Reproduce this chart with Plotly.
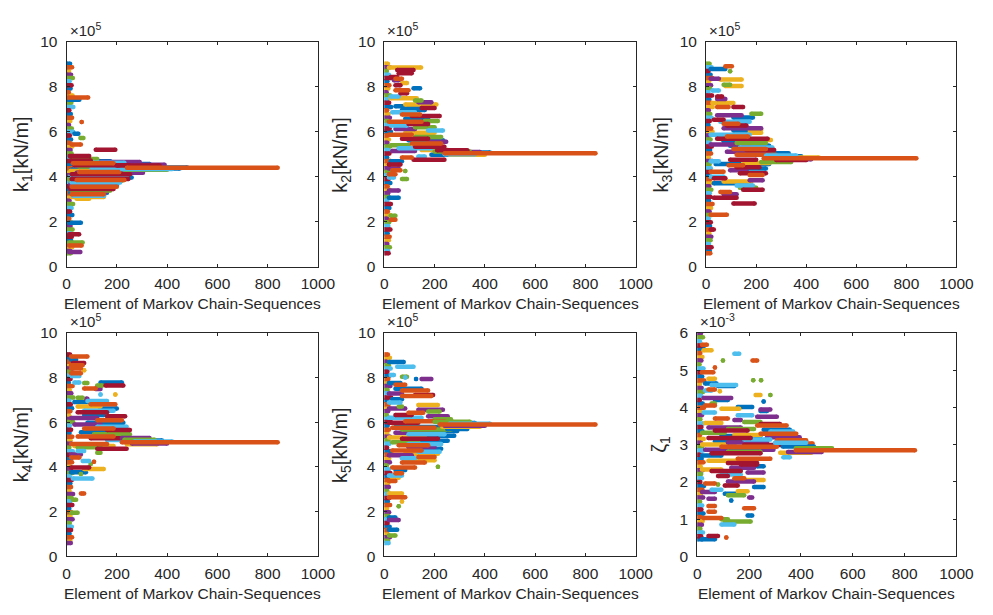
import plotly.graph_objects as go

# ---------------- data ----------------
X_TICKS = [0, 200, 400, 600, 800, 1000]
K_TICKS = [0, 2, 4, 6, 8, 10]
Z_TICKS = [0, 1, 2, 3, 4, 5, 6]
X_LABEL = "Element of Markov Chain-Sequences"
Y_LABELS = ["k<sub>1</sub>[kN/m]", "k<sub>2</sub>[kN/m]", "k<sub>3</sub>[kN/m]",
            "k<sub>4</sub>[kN/m]", "k<sub>5</sub>[kN/m]", "ζ<sub>1</sub>"]
EXPONENTS = ["×10<sup>5</sup>"] * 5 + ["×10<sup>-3</sup>"]

# dense column of early samples (first ~25 elements), values in 1e5 kN/m
K_COL = [9.03, 8.88, 8.71, 8.55, 8.40, 8.26, 8.08, 7.93, 7.77, 7.62,
         7.44, 7.30, 7.11, 6.96, 6.80, 6.63, 6.49, 6.31, 6.15, 6.01,
         5.84, 5.66, 5.52, 5.35, 5.19, 5.04, 4.86, 4.70, 4.55, 4.38,
         4.21, 4.07, 3.90, 3.73, 3.58, 3.42, 3.27, 3.10, 2.93, 2.79,
         2.61, 2.46, 2.30, 2.13, 1.98, 1.81, 1.66, 1.49, 1.33, 1.18,
         1.01, 0.86, 0.70, 0.60]
# same for zeta_1, values in 1e-3
Z_COL = [5.98, 5.88, 5.77, 5.66, 5.57, 5.46, 5.35, 5.26, 5.15, 5.04,
         4.94, 4.83, 4.72, 4.63, 4.52, 4.41, 4.31, 4.20, 4.10, 3.99,
         3.88, 3.79, 3.68, 3.57, 3.47, 3.36, 3.26, 3.15, 3.05, 2.94,
         2.84, 2.73, 2.62, 2.53, 2.42, 2.31, 2.21, 2.10, 2.00, 1.89,
         1.79, 1.68, 1.58, 1.47, 1.37, 1.26, 1.15, 1.06, 0.95, 0.85,
         0.74, 0.64, 0.54, 0.46]
COL_END = [14, 22, 10, 18, 25, 12, 20, 16, 9, 24,
           13, 19, 27, 11, 17, 22, 15, 10, 21, 26,
           13, 18, 12, 23, 16, 20, 11, 25, 14, 19,
           22, 10, 17, 24, 13, 21, 15, 18, 12, 26,
           20, 14, 23, 11, 19, 16, 24, 13, 21, 18,
           12, 22, 15, 17]

# chain ids: 0 blue, 1 orange, 2 yellow, 3 purple, 4 green, 5 light blue, 6 dark red
# ---- k1 (x1e5) ----
K1_START = [5, 5, 60, 31, 55, 20, 116, 12, 20, 15, 30, 40, 60, 25, 60, 30, 80, 50, 100, 20,
            15, 50, 40, 20, 15, 70, 30, 20, 40, 15, 20, 15, 30, 20, 25, 15, 20, 30, 15, 20,
            25, 20, 40, 10, 10, 10, 10, 10]
K1_END = [86, 51, 60, 47, 67, 57, 194, 90, 122, 96, 174, 291, 230, 187, 330, 265, 280, 304, 300, 356,
          252, 210, 304, 252, 239, 240, 259, 246, 230, 220, 213, 187, 200, 200, 175, 187, 174, 160, 161, 148,
          150, 148, 90, 57, 50, 64, 60, 55]
K1_VAL = [7.53, 7.43, 6.44, 5.92, 5.73, 5.44, 5.21, 4.93, 4.79, 4.73, 4.69, 4.66, 4.63, 4.60, 4.57, 4.52, 4.49, 4.46, 4.38, 4.33,
          4.26, 4.22, 4.18, 4.11, 4.04, 4.00, 3.97, 3.90, 3.86, 3.82, 3.75, 3.68, 3.62, 3.56, 3.51, 3.46, 3.39, 3.34, 3.29, 3.22,
          3.16, 3.10, 3.02, 1.95, 1.44, 1.08, 0.94, 0.65]
K1_CHAIN = [1, 0, 1, 0, 4, 1, 6, 6, 4, 6, 0, 3, 5, 1, 0, 6, 2, 4, 5, 0,
            2, 1, 3, 6, 5, 2, 0, 6, 1, 4, 5, 3, 0, 1, 5, 6, 4, 3, 0, 1,
            5, 2, 2, 0, 6, 4, 1, 3]
K1_BAND_START = [200, 230, 260, 220, 250, 230, 260, 240]
K1_BAND_END = [370, 400, 390, 420, 480, 380, 450, 840]
K1_BAND_VAL = [4.50, 4.31, 4.54, 4.35, 4.42, 4.47, 4.37, 4.40]
K1_BAND_CHAIN = [6, 4, 3, 5, 0, 2, 0, 1]

# ---- k2 (x1e5) ----
K2_START = [18, 51, 57, 25, 44, 38, 70, 44, 116, 44, 64, 25, 25, 122, 135, 83, 44, 148, 70, 31,
            70, 109, 83, 161, 18, 96, 25, 122, 44, 174, 83, 18, 122, 70, 96, 174, 109, 25, 122, 57,
            148, 31, 187, 135, 70, 116, 25, 18, 18, 31, 83, 18, 18, 70, 18, 18, 25, 25]
K2_END = [146, 116, 109, 51, 70, 57, 90, 64, 142, 96, 90, 57, 129, 148, 187, 207, 135, 200, 161, 122,
          142, 220, 174, 213, 148, 174, 90, 200, 122, 233, 200, 109, 226, 174, 233, 246, 226, 96, 239, 187,
          252, 122, 265, 161, 109, 239, 70, 64, 57, 64, 83, 44, 38, 90, 57, 57, 44, 44]
K2_VAL = [8.87, 8.76, 8.61, 8.44, 8.37, 8.30, 8.18, 8.08, 7.94, 7.86, 7.72, 7.58, 7.50, 7.40, 7.32, 7.22, 7.14, 7.06, 6.97, 6.88,
          6.78, 6.71, 6.59, 6.49, 6.45, 6.35, 6.28, 6.21, 6.13, 6.06, 5.96, 5.87, 5.77, 5.70, 5.63, 5.56, 5.48, 5.41, 5.34, 5.27,
          5.19, 5.15, 4.98, 4.91, 4.86, 4.76, 4.69, 4.55, 4.37, 4.29, 4.26, 4.11, 3.97, 3.90, 3.39, 3.07, 2.27, 2.09]
K2_CHAIN = [2, 6, 6, 6, 1, 3, 2, 6, 0, 1, 6, 5, 2, 4, 3, 2, 0, 6, 0, 5,
            1, 6, 0, 4, 1, 6, 5, 4, 3, 5, 2, 1, 4, 6, 0, 3, 1, 4, 6, 5,
            2, 3, 0, 5, 1, 6, 0, 6, 3, 1, 4, 1, 5, 4, 3, 0, 4, 1]
K2_BAND_START = [210, 230, 240, 250, 200, 260, 240]
K2_BAND_END = [330, 380, 360, 420, 340, 400, 840]
K2_BAND_VAL = [5.18, 5.10, 5.00, 5.08, 5.13, 4.98, 5.05]
K2_BAND_CHAIN = [6, 3, 5, 0, 4, 2, 1]

# ---- k3 (x1e5) ----
K3_START = [77, 18, 96, 18, 57, 77, 70, 25, 44, 44, 25, 44, 109, 181, 44, 109, 31, 57, 70, 83,
            70, 174, 109, 174, 18, 83, 44, 213, 70, 122, 18, 96, 135, 109, 161, 83, 200, 122, 96, 18,
            148, 38, 90, 122, 161, 96, 18, 135, 174, 18, 31, 174, 70, 31, 122, 135, 148, 57, 70, 31,
            109, 18, 18]
K3_END = [103, 77, 96, 51, 142, 142, 96, 51, 64, 77, 109, 90, 148, 220, 142, 187, 70, 174, 129, 161,
          220, 220, 187, 220, 174, 168, 246, 259, 226, 239, 174, 252, 265, 239, 272, 252, 330, 278, 200, 51,
          252, 252, 148, 213, 239, 161, 70, 239, 226, 70, 77, 226, 181, 161, 187, 200, 226, 96, 122, 122,
          194, 83, 31]
K3_VAL = [8.92, 8.80, 8.70, 8.37, 8.33, 8.04, 8.10, 7.84, 7.58, 7.46, 7.29, 7.11, 7.11, 6.81, 6.74, 6.64, 6.54, 6.45, 6.36, 6.28,
          6.16, 6.10, 6.06, 5.96, 5.87, 5.80, 5.70, 5.64, 5.58, 5.51, 5.44, 5.38, 5.31, 5.24, 5.19, 5.12, 5.05, 4.98, 4.76, 4.69,
          4.62, 4.57, 4.52, 4.43, 4.37, 4.29, 4.23, 4.16, 4.08, 4.00, 3.94, 3.85, 3.79, 3.71, 3.61, 3.51, 3.43, 3.32, 3.22, 3.07,
          2.81, 2.31, 1.66]
K3_CHAIN = [1, 0, 4, 3, 2, 2, 4, 5, 6, 3, 2, 1, 6, 4, 3, 0, 6, 5, 1, 6,
            3, 2, 0, 2, 5, 1, 6, 2, 0, 4, 3, 0, 5, 1, 6, 3, 0, 1, 6, 5,
            2, 0, 1, 6, 0, 3, 1, 6, 1, 5, 6, 3, 2, 0, 5, 4, 6, 1, 3, 6,
            6, 1, 6]
K3_BAND_START = [220, 250, 260, 240, 280, 300, 230]
K3_BAND_END = [340, 380, 420, 360, 400, 450, 840]
K3_BAND_VAL = [4.66, 4.92, 4.78, 4.95, 4.75, 4.86, 4.83]
K3_BAND_CHAIN = [4, 0, 3, 5, 6, 2, 1]

# ---- k4 (x1e5) ----
K4_START = [18, 18, 25, 18, 18, 70, 18, 18, 135, 31, 70, 122, 155, 122, 70, 116, 135, 194, 44, 77,
            83, 31, 96, 44, 135, 70, 44, 70, 161, 18, 122, 83, 31, 122, 70, 161, 57, 109, 44, 96,
            161, 18, 31, 44, 122, 44, 122, 18, 18, 64, 109, 96, 18, 70, 18, 57, 25, 57, 25, 18]
K4_END = [83, 38, 70, 64, 57, 70, 57, 51, 220, 51, 83, 142, 226, 135, 116, 135, 135, 194, 64, 83,
          161, 96, 194, 135, 200, 187, 161, 148, 233, 122, 220, 226, 135, 239, 187, 252, 226, 252, 187, 265,
          278, 161, 187, 135, 239, 70, 135, 57, 51, 90, 109, 96, 90, 148, 77, 57, 103, 70, 38, 44]
K4_VAL = [8.94, 8.80, 8.65, 8.55, 8.40, 8.33, 8.19, 8.07, 7.78, 7.78, 7.76, 7.64, 7.64, 7.60, 7.51, 7.49, 7.24, 7.24, 7.10, 7.05,
          6.95, 6.91, 6.81, 6.71, 6.62, 6.52, 6.45, 6.33, 6.27, 6.19, 6.09, 5.98, 5.90, 5.80, 5.72, 5.65, 5.55, 5.46, 5.36, 5.29,
          5.21, 5.03, 4.94, 4.88, 4.81, 4.71, 4.64, 4.56, 4.42, 4.27, 4.23, 4.13, 3.98, 3.91, 3.77, 3.69, 3.48, 2.82, 2.53, 1.95]
K4_CHAIN = [1, 0, 6, 1, 1, 2, 1, 5, 0, 5, 4, 4, 6, 3, 1, 3, 5, 2, 4, 3,
            5, 0, 1, 2, 0, 5, 6, 0, 6, 3, 1, 0, 3, 5, 1, 6, 0, 4, 1, 6,
            5, 1, 2, 4, 6, 5, 4, 3, 1, 5, 1, 4, 6, 2, 0, 4, 5, 1, 4, 4]
K4_BAND_START = [220, 250, 260, 230, 270, 240, 220]
K4_BAND_END = [330, 380, 400, 350, 420, 360, 840]
K4_BAND_VAL = [5.30, 5.18, 5.05, 5.22, 5.14, 5.02, 5.11]
K4_BAND_CHAIN = [3, 0, 3, 4, 5, 2, 1]

# ---- k5 (x1e5) ----
K5_START = [18, 51, 25, 70, 83, 126, 148, 18, 44, 44, 70, 18, 70, 122, 31, 18, 135, 57, 18, 135,
            174, 96, 44, 174, 18, 200, 83, 18, 44, 31, 70, 135, 44, 96, 122, 18, 70, 135, 31, 96,
            57, 96, 148, 31, 135, 83, 18, 135, 70, 83, 70, 213, 31, 44, 44, 18, 31, 18, 18, 18,
            70, 57, 18, 18, 18, 18]
K5_END = [77, 116, 38, 90, 83, 126, 187, 64, 83, 148, 174, 70, 187, 194, 70, 64, 213, 70, 83, 233,
          220, 155, 109, 252, 148, 265, 239, 135, 252, 200, 265, 290, 174, 239, 278, 161, 213, 252, 135, 226,
          174, 200, 226, 148, 220, 213, 109, 200, 122, 200, 161, 213, 122, 83, 70, 70, 57, 44, 70, 83,
          70, 57, 44, 57, 51, 44]
K5_VAL = [8.69, 8.48, 8.11, 8.04, 8.00, 7.93, 7.93, 7.75, 7.68, 7.50, 7.42, 7.29, 7.17, 7.22, 7.03, 6.88, 6.77, 6.71, 6.62, 6.56,
          6.48, 6.42, 6.33, 6.27, 6.20, 6.13, 6.04, 5.98, 5.79, 5.75, 5.68, 5.61, 5.53, 5.46, 5.40, 5.32, 5.26, 5.17, 5.11, 5.03,
          4.97, 4.88, 4.82, 4.74, 4.68, 4.59, 4.53, 4.45, 4.39, 4.30, 4.20, 4.01, 3.98, 3.87, 3.72, 3.62, 3.52, 3.37, 2.82, 2.65,
          2.46, 2.24, 1.74, 1.63, 1.19, 0.94]
K5_CHAIN = [0, 5, 5, 4, 5, 0, 3, 0, 1, 0, 1, 3, 1, 6, 0, 5, 2, 4, 3, 3,
            4, 1, 6, 3, 5, 4, 1, 6, 0, 1, 4, 0, 3, 5, 0, 2, 6, 0, 4, 5,
            1, 3, 0, 1, 5, 2, 3, 1, 5, 2, 1, 4, 1, 0, 1, 5, 2, 1, 2, 1,
            2, 4, 0, 3, 0, 4]
K5_BAND_START = [220, 240, 200, 260, 230, 250, 220]
K5_BAND_END = [360, 400, 340, 420, 380, 330, 840]
K5_BAND_VAL = [5.97, 5.84, 6.02, 5.93, 5.80, 5.70, 5.90]
K5_BAND_CHAIN = [0, 3, 4, 5, 2, 0, 1]

# ---- zeta_1 (x1e-3) ----
Z1_START = [18, 24, 143, 213, 99, 68, 18, 43, 216, 246,
            30, 55, 80, 43, 30, 87, 225, 282, 24, 68,
            256, 55, 30, 156, 93, 244, 244, 24, 156, 231,
            68, 143, 181, 30, 244, 231, 43, 118, 256, 68,
            282, 18, 244, 143, 93, 269, 43, 181, 307, 68,
            118, 345, 18, 181, 93, 30, 118, 55, 18, 332,
            156, 43, 118, 168, 231, 131, 18, 55, 194, 93,
            80, 143, 181, 118, 30, 80, 106, 219, 55, 156,
            18, 106, 118, 200, 43, 131, 43, 181, 43, 194,
            24, 93, 106, 93, 43, 112, 18]
Z1_END = [37, 55, 162, 231, 99, 68, 62, 68, 216, 246,
          74, 150, 143, 68, 55, 87, 244, 282, 131, 118,
          256, 68, 68, 212, 162, 282, 269, 68, 212, 307,
          118, 168, 244, 93, 319, 345, 168, 219, 357, 194,
          370, 106, 382, 244, 244, 395, 206, 282, 420, 194,
          269, 445, 143, 332, 307, 294, 244, 244, 93, 357,
          282, 181, 231, 231, 256, 219, 93, 168, 256, 168,
          118, 181, 256, 219, 68, 80, 156, 256, 93, 194,
          68, 168, 181, 212, 68, 131, 68, 219, 68, 212,
          93, 118, 206, 143, 80, 112, 68]
Z1_VAL = [5.68, 5.53, 5.44, 5.26, 5.26, 5.07, 4.94, 4.77, 4.73, 4.73,
          4.64, 4.60, 4.57, 4.48, 4.45, 4.43, 4.33, 4.33, 4.25, 4.20,
          4.16, 4.10, 4.05, 4.01, 3.96, 3.94, 3.90, 3.86, 3.79, 3.75,
          3.70, 3.66, 3.61, 3.58, 3.55, 3.51, 3.46, 3.42, 3.40, 3.38,
          3.35, 3.32, 3.29, 3.26, 3.23, 3.20, 3.18, 3.14, 3.12, 3.09,
          3.06, 3.03, 3.00, 2.99, 2.94, 2.86, 2.81, 2.77, 2.71, 2.66,
          2.62, 2.57, 2.51, 2.47, 2.42, 2.38, 2.33, 2.29, 2.25, 2.20,
          2.16, 2.10, 2.05, 2.01, 1.96, 1.93, 1.90, 1.86, 1.79, 1.75,
          1.73, 1.68, 1.64, 1.58, 1.55, 1.50, 1.35, 1.29, 1.20, 1.10,
          1.03, 1.00, 0.94, 0.86, 0.55, 0.51, 0.46]
Z1_CHAIN = [1, 2, 5, 1, 4, 1, 1, 2, 4, 4,
            0, 5, 0, 1, 5, 2, 2, 4, 3, 0,
            0, 4, 1, 0, 2, 3, 0, 5, 5, 3,
            1, 3, 4, 2, 6, 1, 3, 4, 0, 6,
            5, 4, 1, 2, 0, 3, 6, 5, 1, 0,
            3, 1, 2, 6, 1, 3, 4, 6, 0, 5,
            1, 2, 6, 6, 0, 3, 2, 6, 3, 5,
            6, 1, 2, 3, 1, 4, 6, 0, 5, 2,
            3, 0, 4, 3, 3, 0, 1, 1, 1, 0,
            1, 4, 4, 5, 6, 1, 0]
Z1_BAND_START = [330, 350, 300, 380, 320, 380]
Z1_BAND_END = [450, 480, 420, 520, 440, 840]
Z1_BAND_VAL = [2.95, 2.80, 3.05, 2.90, 2.78, 2.85]
Z1_BAND_CHAIN = [0, 3, 5, 4, 2, 1]

# ---------------- styling / layout ----------------
COLORS = ["#0072BD", "#D95319", "#EDB120", "#7E2F8E", "#77AC30", "#4DBEEE", "#A2142F"]
DRAW_ORDER = [0, 2, 3, 4, 5, 6, 1]
FONT = "Liberation Sans, Arial, Helvetica, sans-serif"
INK = "#262626"
W, H = 993, 615
BOXES = [(64, 321, 34, 265), (389, 646, 34, 265), (718, 974, 34, 265),
         (64, 321, 333, 563), (389, 646, 333, 563), (709, 974, 333, 563)]
YLAB_X = [19, 345, 673, 19, 345, 671]
LW = 4.5

PANELS = [
    (K_COL, K1_START, K1_END, K1_VAL, K1_CHAIN, K1_BAND_START, K1_BAND_END, K1_BAND_VAL, K1_BAND_CHAIN, K_TICKS),
    (K_COL, K2_START, K2_END, K2_VAL, K2_CHAIN, K2_BAND_START, K2_BAND_END, K2_BAND_VAL, K2_BAND_CHAIN, K_TICKS),
    (K_COL, K3_START, K3_END, K3_VAL, K3_CHAIN, K3_BAND_START, K3_BAND_END, K3_BAND_VAL, K3_BAND_CHAIN, K_TICKS),
    (K_COL, K4_START, K4_END, K4_VAL, K4_CHAIN, K4_BAND_START, K4_BAND_END, K4_BAND_VAL, K4_BAND_CHAIN, K_TICKS),
    (K_COL, K5_START, K5_END, K5_VAL, K5_CHAIN, K5_BAND_START, K5_BAND_END, K5_BAND_VAL, K5_BAND_CHAIN, K_TICKS),
    (Z_COL, Z1_START, Z1_END, Z1_VAL, Z1_CHAIN, Z1_BAND_START, Z1_BAND_END, Z1_BAND_VAL, Z1_BAND_CHAIN, Z_TICKS),
]


def segments(starts, ends, vals, chains, c):
    xs, ys = [], []
    for s, e, v, ch in zip(starts, ends, vals, chains):
        if ch == c:
            xs += [s, e, None]
            ys += [v, v, None]
    return xs, ys


fig = go.Figure()
layout = dict(width=W, height=H, margin=dict(l=0, r=0, t=0, b=0),
              paper_bgcolor="white", plot_bgcolor="white", showlegend=False,
              font=dict(family=FONT, color=INK, size=15))
annotations = []

for i, (col, rs, re_, rv, rc, bs, be, bv, bc, yt) in enumerate(PANELS):
    n = "" if i == 0 else str(i + 1)
    xa, ya = "x" + n, "y" + n
    col_start = [1] * len(col)
    col_chain = [(k + 2 * i) % 7 for k in range(len(col))]
    for group in [(col_start, COL_END, col, col_chain), (rs, re_, rv, rc), (bs, be, bv, bc)]:
        for c in DRAW_ORDER:
            xs, ys = segments(*group, c)
            if not xs:
                continue
            fig.add_trace(go.Scatter(
                x=xs, y=ys, mode="lines+markers", xaxis=xa, yaxis=ya,
                line=dict(color=COLORS[c], width=LW),
                marker=dict(color=COLORS[c], size=LW),
                hoverinfo="skip", showlegend=False))
    x0, x1, y0, y1 = BOXES[i]
    common = dict(showline=True, linecolor=INK, linewidth=1, mirror="ticks",
                  ticks="inside", ticklen=3, tickcolor=INK, tickwidth=1,
                  showgrid=False, zeroline=False,
                  tickfont=dict(family=FONT, size=15.5, color=INK))
    layout["xaxis" + n] = dict(domain=[x0 / W, x1 / W], range=[0, 1000], anchor=ya,
                               tickvals=X_TICKS, ticktext=[str(t) for t in X_TICKS],
                               ticklabelstandoff=3, **common)
    layout["yaxis" + n] = dict(domain=[1 - y1 / H, 1 - y0 / H], range=[yt[0], yt[-1]], anchor=xa,
                               tickvals=yt, ticktext=[str(t) for t in yt],
                               ticklabelstandoff=5, **common)
    annotations.append(dict(text=X_LABEL, xref="paper", yref="paper",
                            x=(x0 + x1) / 2 / W, y=1 - (y1 + 38) / H,
                            xanchor="center", yanchor="middle", showarrow=False,
                            font=dict(family=FONT, size=15.5, color=INK)))
    annotations.append(dict(text=Y_LABELS[i], xref="paper", yref="paper",
                            x=YLAB_X[i] / W, y=1 - (y0 + y1) / 2 / H, textangle=-90,
                            xanchor="center", yanchor="middle", showarrow=False,
                            font=dict(family=FONT, size=20, color=INK)))
    annotations.append(dict(text=EXPONENTS[i], xref="paper", yref="paper",
                            x=(x0 + 1) / W, y=1 - (y0 - 1) / H,
                            xanchor="left", yanchor="bottom", showarrow=False,
                            font=dict(family=FONT, size=15, color=INK)))

layout["annotations"] = annotations
fig.update_layout(**layout)
fig.write_html("out.html")
